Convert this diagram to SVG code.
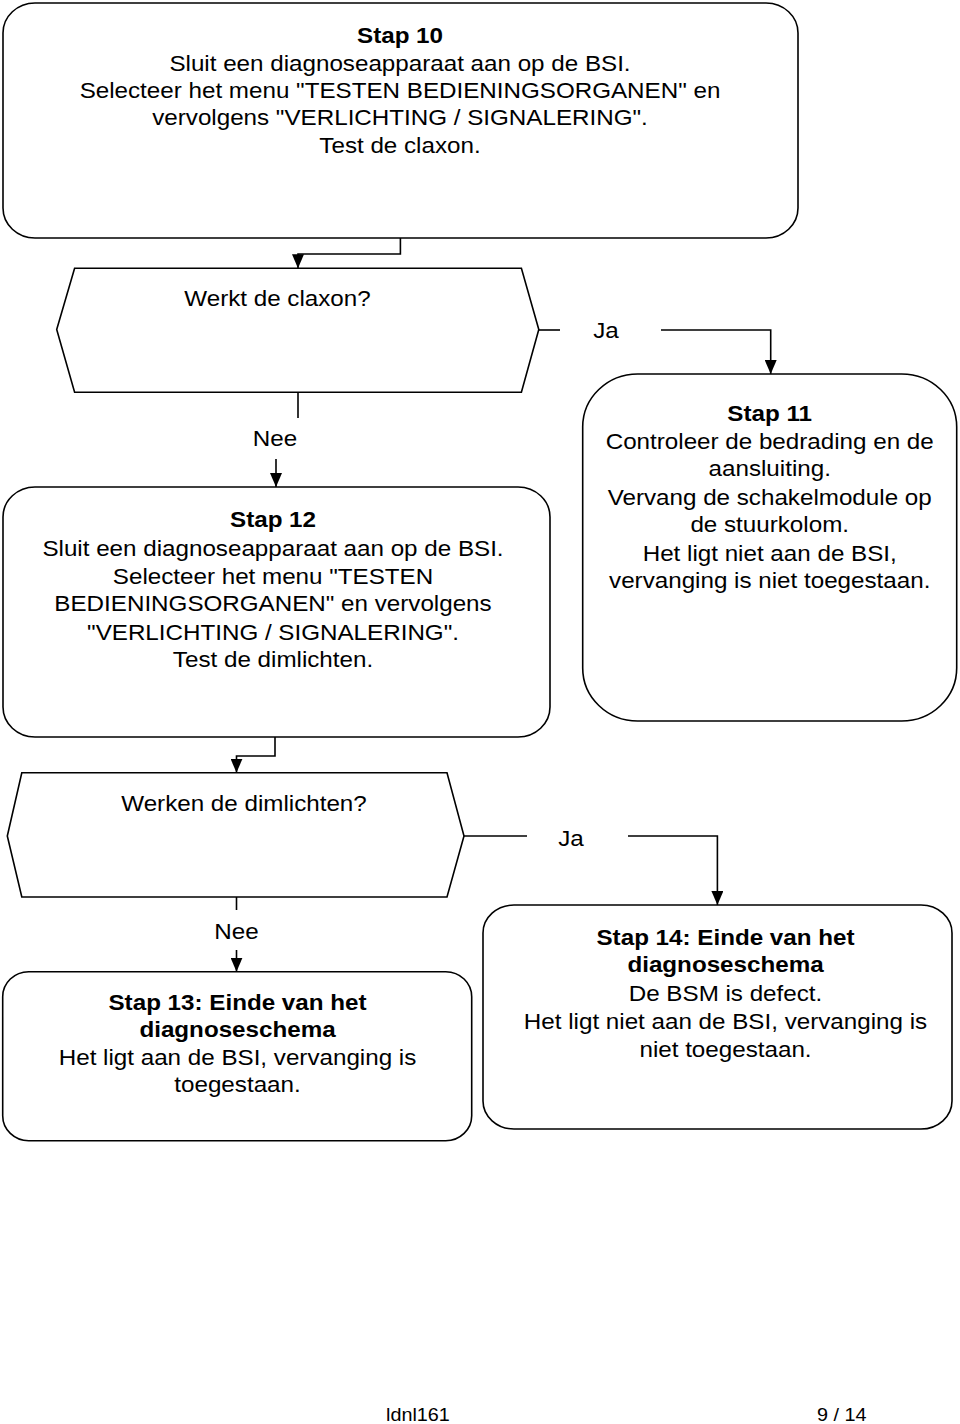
<svg xmlns="http://www.w3.org/2000/svg" width="960" height="1424" viewBox="0 0 960 1424">
<defs>
<style>
.box{fill:#fff;stroke:#000;stroke-width:1.6}
text{font-family:"Liberation Sans",Arial,sans-serif;font-size:22px;fill:#000;text-anchor:middle}
.b{font-weight:bold}
.ft{font-size:18px;text-anchor:start}
#connectors path{fill:none;stroke:#000;stroke-width:1.6}
</style>
<marker id="ah" viewBox="0 0 14 12" refX="14" refY="6" markerWidth="14" markerHeight="12" markerUnits="userSpaceOnUse" orient="auto">
<path d="M0,0 L14,6 L0,12 z" fill="#000"/>
</marker>
</defs>
<rect width="960" height="1424" fill="#fff"/>

<g id="stap10">
<rect class="box" x="3" y="3" width="795" height="235" rx="32" ry="30"/>
<g transform="translate(400 0) scale(1.1 1)">
<text class="b" y="43">Stap 10</text>
<text y="71">Sluit een diagnoseapparaat aan op de BSI.</text>
<text y="98">Selecteer het menu "TESTEN BEDIENINGSORGANEN" en</text>
<text y="125">vervolgens "VERLICHTING / SIGNALERING".</text>
<text y="153">Test de claxon.</text>
</g>
</g>

<g id="q1">
<polygon class="box" points="74.6,268.3 521.4,268.3 538.8,329.5 521.4,392.3 74.6,392.3 56.7,329.5"/>
<g transform="translate(277.5 0) scale(1.1 1)">
<text y="306">Werkt de claxon?</text>
</g>
</g>

<g id="stap11">
<rect class="box" x="582.7" y="374" width="374" height="347" rx="55" ry="53"/>
<g transform="translate(769.7 0) scale(1.1 1)">
<text class="b" y="421">Stap 11</text>
<text y="449">Controleer de bedrading en de</text>
<text y="476">aansluiting.</text>
<text y="505">Vervang de schakelmodule op</text>
<text y="532">de stuurkolom.</text>
<text y="561">Het ligt niet aan de BSI,</text>
<text y="588">vervanging is niet toegestaan.</text>
</g>
</g>

<g id="stap12">
<rect class="box" x="3" y="487" width="547" height="250" rx="32" ry="30"/>
<g transform="translate(273 0) scale(1.1 1)">
<text class="b" y="527">Stap 12</text>
<text y="556">Sluit een diagnoseapparaat aan op de BSI.</text>
<text y="584">Selecteer het menu "TESTEN</text>
<text y="611">BEDIENINGSORGANEN" en vervolgens</text>
<text y="640">"VERLICHTING / SIGNALERING".</text>
<text y="667">Test de dimlichten.</text>
</g>
</g>

<g id="q2">
<polygon class="box" points="21.8,772.7 447,772.7 464,836 447,897 21.8,897 7.3,836"/>
<g transform="translate(244 0) scale(1.1 1)">
<text y="811">Werken de dimlichten?</text>
</g>
</g>

<g id="stap13">
<rect class="box" x="2.7" y="971.7" width="469" height="169" rx="26" ry="25"/>
<g transform="translate(237.5 0) scale(1.1 1)">
<text class="b" y="1010">Stap 13: Einde van het</text>
<text class="b" y="1037">diagnoseschema</text>
<text y="1065">Het ligt aan de BSI, vervanging is</text>
<text y="1092">toegestaan.</text>
</g>
</g>

<g id="stap14">
<rect class="box" x="483" y="905" width="469" height="224" rx="31" ry="28"/>
<g transform="translate(725.5 0) scale(1.1 1)">
<text class="b" y="945">Stap 14: Einde van het</text>
<text class="b" y="972">diagnoseschema</text>
<text y="1001">De BSM is defect.</text>
<text y="1029">Het ligt niet aan de BSI, vervanging is</text>
<text y="1057">niet toegestaan.</text>
</g>
</g>

<g id="connectors">
<path d="M400.4,238 V254 H298 V268.3" marker-end="url(#ah)"/>
<path d="M538.8,330 H560"/>
<path d="M661,330 H770.7 V374" marker-end="url(#ah)"/>
<path d="M298,392.3 V418"/>
<path d="M276,459 V487" marker-end="url(#ah)"/>
<path d="M275,737 V756 H236.5 V772.7" marker-end="url(#ah)"/>
<path d="M464,836 H527"/>
<path d="M628,836 H717.4 V905" marker-end="url(#ah)"/>
<path d="M236.5,897 V910"/>
<path d="M236.5,950 V971.7" marker-end="url(#ah)"/>
<g transform="translate(606 0) scale(1.1 1)"><text y="338">Ja</text></g>
<g transform="translate(275 0) scale(1.1 1)"><text y="446">Nee</text></g>
<g transform="translate(571 0) scale(1.1 1)"><text y="846">Ja</text></g>
<g transform="translate(236.5 0) scale(1.1 1)"><text y="939">Nee</text></g>
</g>

<g id="footer">
<g transform="translate(386 0) scale(1.1 1)"><text class="ft" y="1421">ldnl161</text></g>
<g transform="translate(817 0) scale(1.1 1)"><text class="ft" y="1421">9 / 14</text></g>
</g>
</svg>
